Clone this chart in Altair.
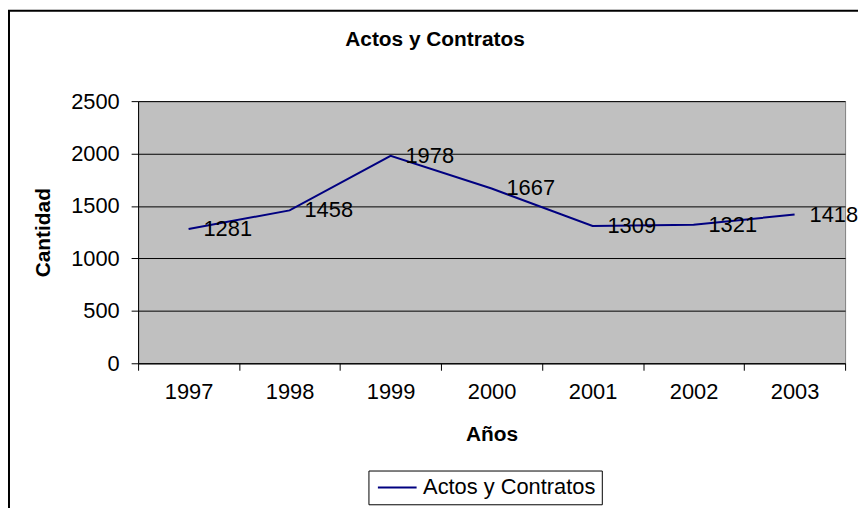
import altair as alt
import pandas as pd

years = ["1997", "1998", "1999", "2000", "2001", "2002", "2003"]
values = [1281, 1458, 1978, 1667, 1309, 1321, 1418]
series_name = "Actos y Contratos"
y_ticks = [0, 500, 1000, 1500, 2000, 2500]

df = pd.DataFrame({"anio": years, "valor": values, "serie": [series_name] * len(years)})
frame_df = pd.DataFrame({"k": [0]})

FONT = "Liberation Sans"
W, H = 712, 264

x_enc = alt.X(
    "anio:O",
    sort=years,
    bandPosition=0.5,
    scale=alt.Scale(type="band", paddingInner=0, paddingOuter=0),
    axis=alt.Axis(
        title="Años",
        tickBand="extent",
        labelAngle=0,
        labelFont=FONT,
        labelFontSize=22,
        labelColor="black",
        labelPadding=11,
        tickColor="black",
        tickSize=7,
        domainColor="black",
        titleFont=FONT,
        titleFontSize=21,
        titleFontWeight="bold",
        titleColor="black",
        titleY=72,
        titleBaseline="middle",
    ),
)
y_enc = alt.Y(
    "valor:Q",
    scale=alt.Scale(domain=[0, 2500]),
    axis=alt.Axis(
        title="Cantidad",
        values=y_ticks,
        format="d",
        grid=True,
        gridColor="black",
        gridOpacity=1,
        labelFont=FONT,
        labelFontSize=22,
        labelColor="black",
        labelPadding=12,
        tickColor="black",
        tickSize=7,
        domainColor="black",
        titleFont=FONT,
        titleFontSize=21,
        titleFontWeight="bold",
        titleColor="black",
        titleX=-95,
        titleY=H / 2,
        titleAngle=270,
        titleAlign="center",
        titleBaseline="middle",
    ),
)

frame = alt.Chart(frame_df).mark_rect(fillOpacity=0, stroke="black", strokeWidth=2).encode(
    x=alt.value(-130), x2=alt.value(W + 60), y=alt.value(-91), y2=alt.value(H + 200)
)

line = alt.Chart(df).mark_line(strokeWidth=2).encode(
    x=x_enc,
    y=y_enc,
    color=alt.Color(
        "serie:N",
        scale=alt.Scale(range=["#000080"]),
        legend=alt.Legend(
            title=None,
            orient="none",
            legendX=232,
            legendY=372,
            strokeColor="black",
            fillColor="white",
            padding=6,
            labelFont=FONT,
            labelFontSize=22,
            labelColor="black",
            labelOffset=15,
            labelLimit=400,
            symbolType="M-2,0H2",
            symbolSize=380,
            symbolOffset=12,
            symbolStrokeWidth=2,
            cornerRadius=0,
        ),
    ),
)

labels = alt.Chart(df).mark_text(
    align="left", baseline="middle", dx=15, font=FONT, fontSize=22, color="black"
).encode(x=x_enc, y=y_enc, text=alt.Text("valor:Q"))

chart = (
    alt.layer(frame, line, labels)
    .properties(
        width=W,
        height=H,
        autosize=alt.AutoSizeParams(type="none"),
        padding={"left": 131, "top": 92, "right": 13, "bottom": 150},
        title=alt.Title(
            "Actos y Contratos",
            font=FONT,
            fontSize=21,
            fontWeight="bold",
            color="black",
            anchor="middle",
            dx=-57,
            offset=-57,
            baseline="alphabetic",
        ),
        background="white",
    )
    .configure_view(fill="#C0C0C0", stroke="#808080", strokeWidth=1)
)

chart.save("out.html", embed_options={"renderer": "svg", "actions": False})
